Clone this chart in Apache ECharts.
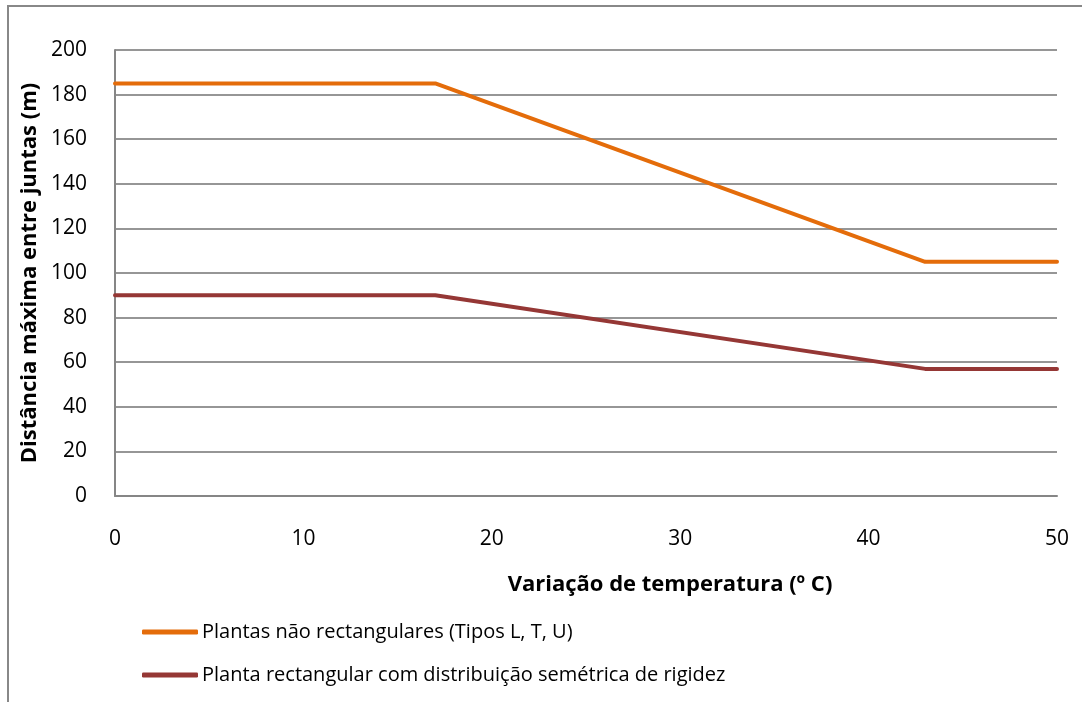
<!DOCTYPE html>
<html><head><meta charset="utf-8">
<script src="https://cdn.jsdelivr.net/npm/echarts@6/dist/echarts.min.js"></script>
<style>html,body{margin:0;padding:0;background:#fff}#c{width:1082px;height:702px}</style>
</head><body><div id="c"></div>
<script>
const seriesNames = ['Plantas não rectangulares (Tipos L, T, U)', 'Planta rectangular com distribuição semétrica de rigidez'];
const tempX = [0, 17, 43, 50];
const orangeY = [185, 185, 105, 105];
const redY = [90, 90, 57, 57];
const xTitle = 'Variação de temperatura (º C)';
const yTitle = 'Distância máxima entre juntas (m)';
const FONT = '"Open Sans"';

const chart = echarts.init(document.getElementById('c'));
chart.setOption({
  animation: false,
  backgroundColor: '#fff',
  grid: {left: 115, right: 25, top: 50, bottom: 206, containLabel: false},
  xAxis: {
    type: 'value', min: 0, max: 50, interval: 10,
    axisLine: {show: true, lineStyle: {color: '#868686', width: 2}},
    axisTick: {show: false},
    splitLine: {show: false},
    axisLabel: {color: '#000', fontSize: 21, fontFamily: FONT, margin: 33}
  },
  yAxis: {
    type: 'value', min: 0, max: 200, interval: 20,
    axisLine: {show: true, lineStyle: {color: '#868686', width: 2}},
    axisTick: {show: false},
    splitLine: {show: true, lineStyle: {color: '#969696', width: 2}},
    axisLabel: {color: '#000', fontSize: 21, fontFamily: FONT, margin: 28}
  },
  legend: {
    orient: 'vertical', left: 142, top: 622, itemGap: 23, padding: 0,
    itemWidth: 56, itemHeight: 5, icon: 'roundRect',
    textStyle: {color: '#000', fontSize: 20, fontFamily: FONT, padding: [0,0,0,-1]},
    data: seriesNames
  },
  graphic: [
    {type: 'rect', shape: {x: 8, y: 6, width: 1100, height: 720}, style: {fill: 'none', stroke: '#888', lineWidth: 2}, silent: true},
    {type: 'text', x: 670, y: 585, style: {text: xTitle, fill: '#000', font: 'bold 22px ' + FONT, align: 'center', verticalAlign: 'middle'}},
    {type: 'text', x: 30, y: 273, rotation: Math.PI/2, style: {text: yTitle, fill: '#000', font: 'bold 22px ' + FONT, align: 'center', verticalAlign: 'middle'}}
  ],
  series: [
    {name: seriesNames[0], type: 'line', data: tempX.map((x,i)=>[x, orangeY[i]]), showSymbol: false, symbol: 'none',
     lineStyle: {color: '#E46C0A', width: 4, cap: 'round'}, itemStyle: {color: '#E46C0A'}},
    {name: seriesNames[1], type: 'line', data: tempX.map((x,i)=>[x, redY[i]]), showSymbol: false, symbol: 'none',
     lineStyle: {color: '#953735', width: 4, cap: 'round'}, itemStyle: {color: '#953735'}}
  ]
});
</script></body></html>
